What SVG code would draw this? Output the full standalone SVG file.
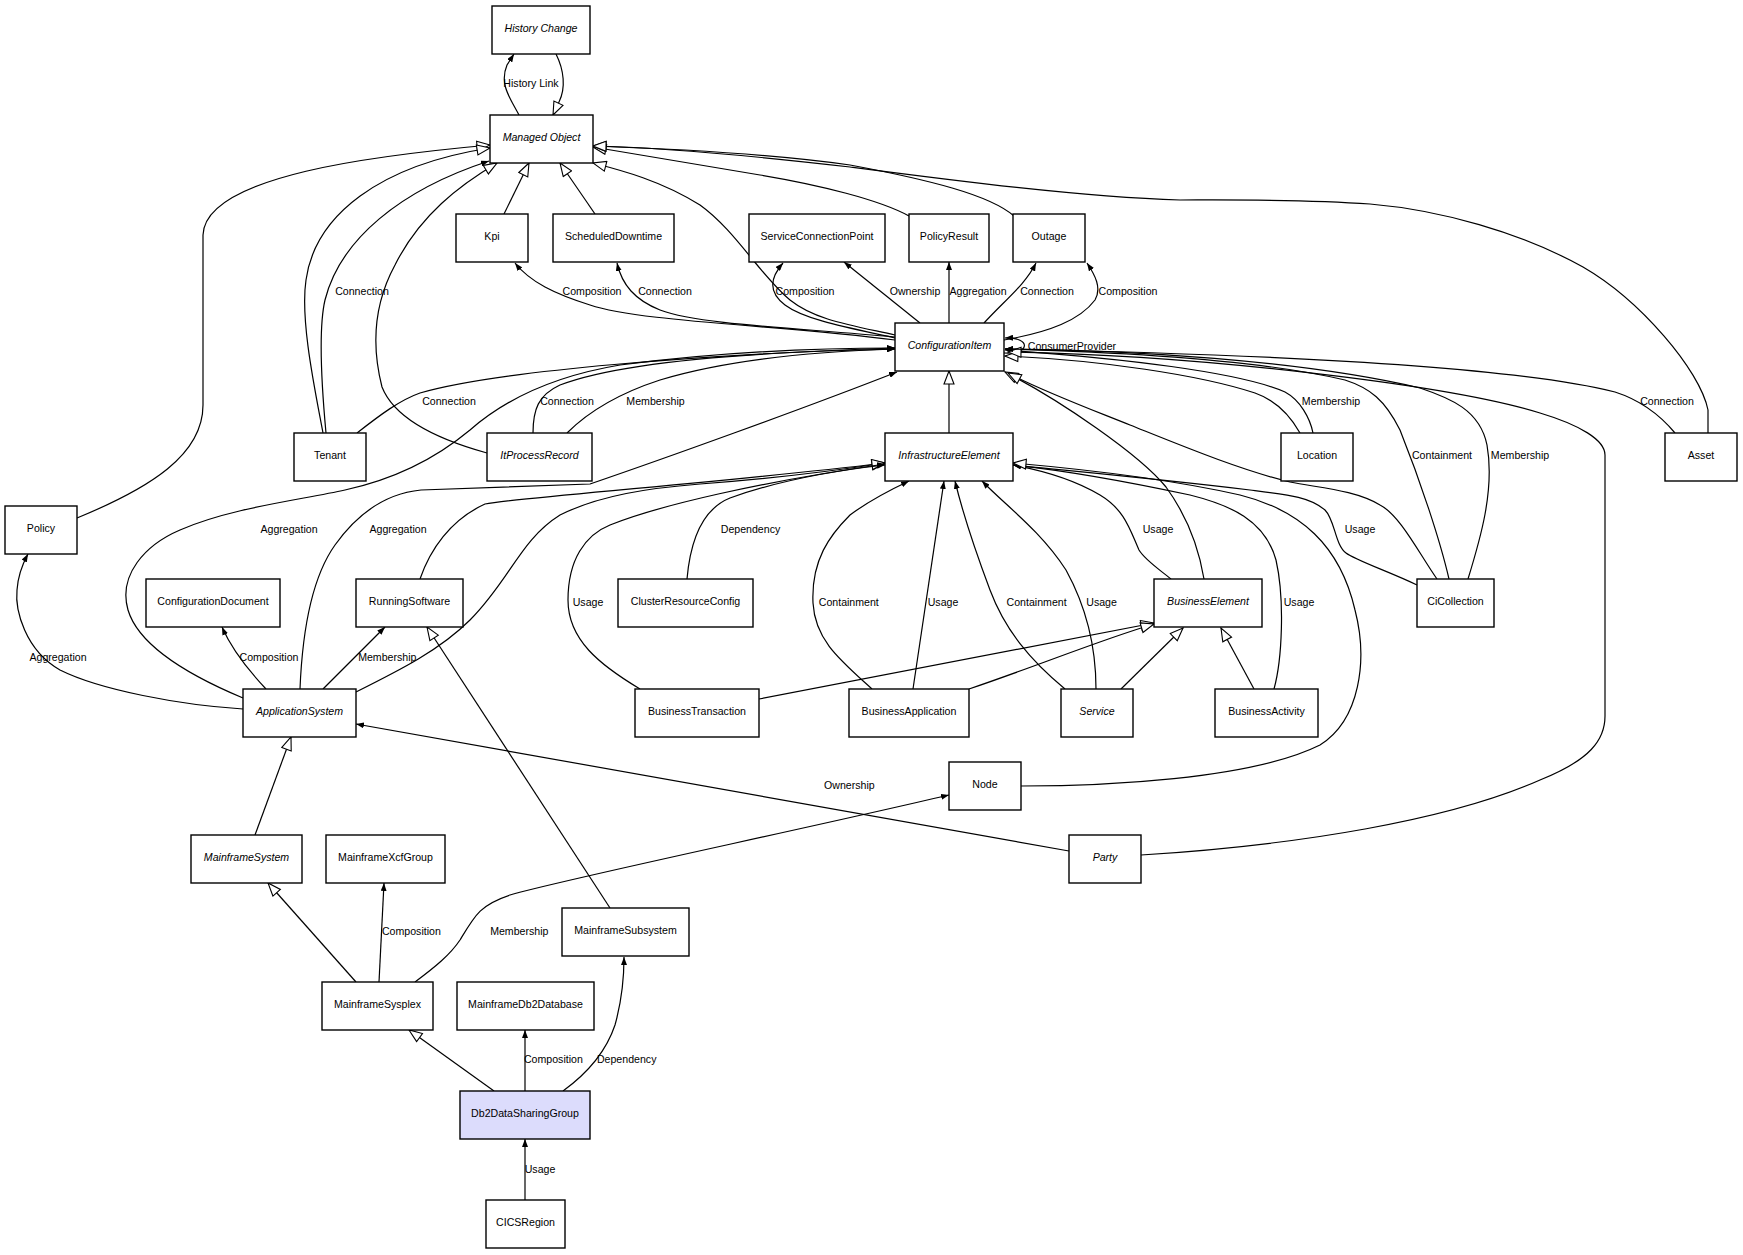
<svg xmlns="http://www.w3.org/2000/svg" width="1743" height="1255" viewBox="0 0 1743 1255">
<style>
.n rect{fill:#fff;stroke:#000;stroke-width:1.4}
.n.hl rect{fill:#dcdcfc}
.n text{font-family:"Liberation Sans",Arial,sans-serif;font-size:10.6px;text-anchor:middle;fill:#000}
.n.a text{font-style:italic}
#edges path{fill:none;stroke:#000;stroke-width:1.2}
#edges path.f{marker-end:url(#fa)}
#edges path.h{marker-end:url(#ha)}
#labels text{font-family:"Liberation Sans",Arial,sans-serif;font-size:10.6px;text-anchor:middle;fill:#000}
</style>
<defs>
<marker id="fa" viewBox="0 0 8 6" refX="8" refY="3" markerWidth="8" markerHeight="6" markerUnits="userSpaceOnUse" orient="auto"><path d="M0,0 L8,3 L0,6 z" fill="#000"/></marker>
<marker id="ha" viewBox="-1 -1 15 12" refX="13" refY="5" markerWidth="15" markerHeight="12" markerUnits="userSpaceOnUse" orient="auto"><path d="M0,0 L13,5 L0,10 z" fill="#fff" stroke="#000" stroke-width="1.1"/></marker>
</defs>
<rect width="1743" height="1255" fill="#fff"/>
<g id="edges">
<path class="f" d="M519,115 C510,98 499,84 507,65 L514,54"/>
<path class="h" d="M556,54 C564,70 566,88 559,102 L553,115"/>
<path class="h" d="M504,214 L529,163"/>
<path class="h" d="M595,214 L560,163"/>
<path class="h" d="M77,518 C150,488 203,455 203,405 L203,235 C205,175 380,155 490,145"/>
<path class="h" d="M323,433 C315,390 300,320 306,280 C315,215 380,165 490,148"/>
<path class="f" d="M326,433 C322,390 318,330 325,300 C340,240 400,190 489,161"/>
<path class="h" d="M487,453 C440,440 395,420 382,387 C370,340 376,300 395,265 C420,215 460,185 497,163"/>
<path class="h" d="M895,335 C850,325 815,320 790,300 C760,275 735,230 700,205 C660,180 620,170 593,163"/>
<path class="h" d="M909,216 C880,200 820,185 760,175 C680,162 620,152 593,147"/>
<path class="h" d="M1014,216 C990,195 930,180 850,165 C760,152 650,148 593,146"/>
<path class="h" d="M1708,433 L1708,410 C1700,370 1640,300 1583,267 C1520,232 1440,210 1370,204 C1300,199 1220,200 1180,200 C1080,197 950,180 850,167 C720,152 640,147 593,146"/>
<path class="f" d="M895,340 C780,325 640,322 590,305 C555,294 530,282 515,263"/>
<path class="f" d="M895,337 C800,328 700,325 660,310 C635,300 622,285 617,263"/>
<path class="f" d="M895,338 C850,328 805,320 785,305 C768,292 770,278 783,263"/>
<path class="f" d="M920,323 L844,262"/>
<path class="f" d="M949,323 L949,262"/>
<path class="f" d="M984,323 C1005,300 1025,285 1036,263"/>
<path class="f" d="M1004,340 C1050,332 1080,320 1095,300 C1102,288 1095,275 1087,263"/>
<path class="f" d="M1004,353 C1030,355 1032,337 1005,338"/>
<path class="f" d="M357,433 C380,415 400,400 420,393 C500,370 700,355 895,348"/>
<path class="f" d="M533,433 C533,410 538,395 560,385 C620,362 750,352 895,349"/>
<path class="f" d="M567,433 C590,410 620,393 660,380 C720,362 800,352 895,349"/>
<path class="f" d="M243,698 C200,680 140,650 128,610 C118,575 145,545 180,530 C230,508 300,500 345,490 C400,478 440,455 470,430 C510,395 560,375 620,365 C720,352 820,348 895,348"/>
<path class="f" d="M300,689 C302,640 310,580 335,545 C360,510 390,493 421,490 L590,484 C660,460 800,410 897,372"/>
<path class="h" d="M356,692 C400,670 440,650 470,620 C510,580 520,540 560,515 C600,495 650,488 700,484 C780,478 840,470 885,463"/>
<path class="h" d="M420,579 C430,550 450,520 485,504 C520,497 700,485 885,463"/>
<path class="f" d="M687,579 C690,545 700,510 730,498 C780,480 840,470 885,465"/>
<path class="f" d="M640,689 C600,665 568,640 568,600 C568,560 585,535 610,525 C660,505 760,482 885,464"/>
<path class="f" d="M872,689 C840,660 815,640 813,603 C811,560 830,535 850,515 C870,500 890,490 909,481"/>
<path class="f" d="M913,689 L944,481"/>
<path class="f" d="M1065,689 C1030,660 1005,630 990,590 C975,550 962,510 955,481"/>
<path class="f" d="M1096,689 C1096,650 1088,610 1066,570 C1040,530 1005,505 982,481"/>
<path class="f" d="M1171,579 C1160,570 1145,560 1139,550 C1130,530 1125,510 1100,495 C1075,480 1040,470 1013,465"/>
<path class="f" d="M1274,689 C1282,660 1285,600 1276,560 C1265,520 1230,505 1190,495 C1120,480 1060,470 1013,465"/>
<path class="f" d="M1417,585 C1390,572 1355,560 1346,553 C1335,545 1335,520 1325,510 C1310,497 1290,495 1250,490 C1150,478 1060,470 1013,465"/>
<path class="h" d="M1021,786 C1100,786 1250,780 1320,745 C1360,720 1368,660 1355,610 C1340,545 1300,510 1240,495 C1160,477 1070,468 1013,463"/>
<path class="h" d="M949,433 L949,371"/>
<path class="h" d="M1204,579 C1200,555 1190,520 1166,487 C1140,455 1060,400 1005,372"/>
<path class="h" d="M1437,579 C1420,555 1400,515 1380,505 C1355,490 1320,488 1290,482 C1240,470 1180,445 1130,425 C1080,405 1040,390 1008,373"/>
<path class="h" d="M1300,433 C1290,415 1275,400 1255,393 C1200,375 1100,360 1005,356"/>
<path class="f" d="M1313,433 C1310,418 1300,400 1285,392 C1240,372 1120,358 1005,350"/>
<path class="f" d="M1449,579 C1440,540 1420,480 1400,430 C1385,400 1370,388 1345,380 C1260,360 1120,352 1005,349"/>
<path class="f" d="M1468,579 C1480,540 1495,490 1487,445 C1480,410 1450,398 1420,388 C1300,360 1130,350 1005,349"/>
<path class="h" d="M1141,855 C1300,845 1450,820 1540,780 C1590,760 1605,740 1605,716 L1605,455 C1605,440 1580,425 1540,413 C1450,385 1200,355 1008,352"/>
<path class="f" d="M1675,433 C1660,415 1640,400 1615,392 C1520,368 1300,355 1005,349"/>
<path class="h" d="M759,699 L1154,623"/>
<path class="h" d="M969,689 C1040,665 1100,640 1154,624"/>
<path class="h" d="M1121,689 L1183,628"/>
<path class="h" d="M1254,689 L1221,628"/>
<path class="f" d="M1069,851 L356,724"/>
<path class="f" d="M243,709 C180,705 100,690 60,670 C25,650 15,610 17,590 C18,575 22,565 28,554"/>
<path class="f" d="M266,689 C250,672 232,650 222,627"/>
<path class="f" d="M323,689 L385,627"/>
<path class="h" d="M255,835 L291,737"/>
<path class="h" d="M610,908 L427,627"/>
<path class="h" d="M356,982 L268,883"/>
<path class="f" d="M379,982 L384,883"/>
<path class="f" d="M415,982 C435,967 450,955 460,940 C475,915 480,905 510,895 C560,880 800,830 949,795"/>
<path class="h" d="M494,1091 L409,1030"/>
<path class="f" d="M525,1091 L525,1030"/>
<path class="f" d="M563,1091 C585,1075 605,1055 615,1025 C622,1000 624,975 624,957"/>
<path class="f" d="M525,1200 L525,1139"/>
</g>
<g id="labels">
<text x="531" y="87">History Link</text>
<text x="362" y="295">Connection</text>
<text x="592" y="295">Composition</text>
<text x="665" y="295">Connection</text>
<text x="805" y="295">Composition</text>
<text x="915" y="295">Ownership</text>
<text x="978" y="295">Aggregation</text>
<text x="1047" y="295">Connection</text>
<text x="1128" y="295">Composition</text>
<text x="1072" y="349.5">ConsumerProvider</text>
<text x="449" y="405">Connection</text>
<text x="567" y="405">Connection</text>
<text x="655.5" y="405">Membership</text>
<text x="1331" y="405">Membership</text>
<text x="1667" y="405">Connection</text>
<text x="1442" y="459">Containment</text>
<text x="1520" y="459">Membership</text>
<text x="289" y="533">Aggregation</text>
<text x="398" y="533">Aggregation</text>
<text x="750.5" y="533">Dependency</text>
<text x="1158" y="533">Usage</text>
<text x="1360" y="533">Usage</text>
<text x="588" y="606">Usage</text>
<text x="848.8" y="606">Containment</text>
<text x="943" y="606">Usage</text>
<text x="1036.6" y="606">Containment</text>
<text x="1101.6" y="606">Usage</text>
<text x="1299" y="606">Usage</text>
<text x="58" y="661">Aggregation</text>
<text x="269" y="661">Composition</text>
<text x="387.3" y="661">Membership</text>
<text x="849.4" y="789">Ownership</text>
<text x="411.4" y="935">Composition</text>
<text x="519.3" y="935">Membership</text>
<text x="553.4" y="1063">Composition</text>
<text x="626.7" y="1063">Dependency</text>
<text x="540" y="1173">Usage</text>
</g>
<g id="HistoryChange" class="n a"><rect x="492" y="6" width="98" height="48"/><text x="541" y="32">History Change</text></g>
<g id="ManagedObject" class="n a"><rect x="490" y="115" width="103" height="48"/><text x="541.5" y="141">Managed Object</text></g>
<g id="Kpi" class="n"><rect x="456" y="214" width="72" height="48"/><text x="492" y="240">Kpi</text></g>
<g id="ScheduledDowntime" class="n"><rect x="553" y="214" width="121" height="48"/><text x="613.5" y="240">ScheduledDowntime</text></g>
<g id="ServiceConnectionPoint" class="n"><rect x="749" y="214" width="136" height="48"/><text x="817" y="240">ServiceConnectionPoint</text></g>
<g id="PolicyResult" class="n"><rect x="909" y="214" width="80" height="48"/><text x="949" y="240">PolicyResult</text></g>
<g id="Outage" class="n"><rect x="1013" y="214" width="72" height="48"/><text x="1049" y="240">Outage</text></g>
<g id="ConfigurationItem" class="n a"><rect x="895" y="323" width="109" height="48"/><text x="949.5" y="349">ConfigurationItem</text></g>
<g id="Tenant" class="n"><rect x="294" y="433" width="72" height="48"/><text x="330" y="459">Tenant</text></g>
<g id="ItProcessRecord" class="n a"><rect x="487" y="433" width="105" height="48"/><text x="539.5" y="459">ItProcessRecord</text></g>
<g id="InfrastructureElement" class="n a"><rect x="885" y="433" width="128" height="48"/><text x="949" y="459">InfrastructureElement</text></g>
<g id="Location" class="n"><rect x="1281" y="433" width="72" height="48"/><text x="1317" y="459">Location</text></g>
<g id="Asset" class="n"><rect x="1665" y="433" width="72" height="48"/><text x="1701" y="459">Asset</text></g>
<g id="Policy" class="n"><rect x="5" y="506" width="72" height="48"/><text x="41" y="532">Policy</text></g>
<g id="ConfigurationDocument" class="n"><rect x="146" y="579" width="134" height="48"/><text x="213" y="605">ConfigurationDocument</text></g>
<g id="RunningSoftware" class="n"><rect x="356" y="579" width="107" height="48"/><text x="409.5" y="605">RunningSoftware</text></g>
<g id="ClusterResourceConfig" class="n"><rect x="618" y="579" width="135" height="48"/><text x="685.5" y="605">ClusterResourceConfig</text></g>
<g id="BusinessElement" class="n a"><rect x="1154" y="579" width="108" height="48"/><text x="1208" y="605">BusinessElement</text></g>
<g id="CiCollection" class="n"><rect x="1417" y="579" width="77" height="48"/><text x="1455.5" y="605">CiCollection</text></g>
<g id="ApplicationSystem" class="n a"><rect x="243" y="689" width="113" height="48"/><text x="299.5" y="715">ApplicationSystem</text></g>
<g id="BusinessTransaction" class="n"><rect x="635" y="689" width="124" height="48"/><text x="697" y="715">BusinessTransaction</text></g>
<g id="BusinessApplication" class="n"><rect x="849" y="689" width="120" height="48"/><text x="909" y="715">BusinessApplication</text></g>
<g id="Service" class="n a"><rect x="1061" y="689" width="72" height="48"/><text x="1097" y="715">Service</text></g>
<g id="BusinessActivity" class="n"><rect x="1215" y="689" width="103" height="48"/><text x="1266.5" y="715">BusinessActivity</text></g>
<g id="Node" class="n"><rect x="949" y="762" width="72" height="48"/><text x="985" y="788">Node</text></g>
<g id="MainframeSystem" class="n a"><rect x="191" y="835" width="111" height="48"/><text x="246.5" y="861">MainframeSystem</text></g>
<g id="MainframeXcfGroup" class="n"><rect x="326" y="835" width="119" height="48"/><text x="385.5" y="861">MainframeXcfGroup</text></g>
<g id="Party" class="n a"><rect x="1069" y="835" width="72" height="48"/><text x="1105" y="861">Party</text></g>
<g id="MainframeSubsystem" class="n"><rect x="562" y="908" width="127" height="48"/><text x="625.5" y="934">MainframeSubsystem</text></g>
<g id="MainframeSysplex" class="n"><rect x="322" y="982" width="111" height="48"/><text x="377.5" y="1008">MainframeSysplex</text></g>
<g id="MainframeDb2Database" class="n"><rect x="457" y="982" width="137" height="48"/><text x="525.5" y="1008">MainframeDb2Database</text></g>
<g id="Db2DataSharingGroup" class="n hl"><rect x="460" y="1091" width="130" height="48"/><text x="525" y="1117">Db2DataSharingGroup</text></g>
<g id="CICSRegion" class="n"><rect x="486" y="1200" width="79" height="48"/><text x="525.5" y="1226">CICSRegion</text></g>
</svg>
